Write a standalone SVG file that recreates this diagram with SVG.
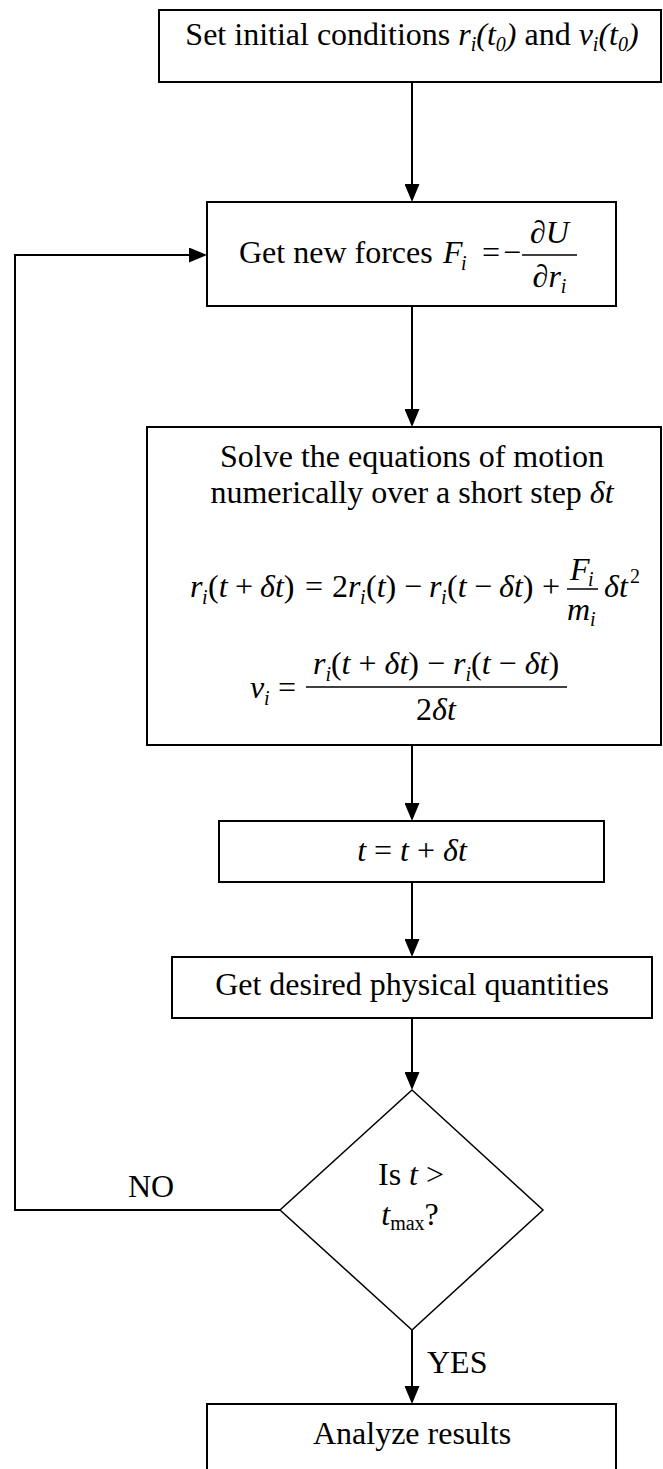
<svg xmlns="http://www.w3.org/2000/svg" width="663" height="1469" viewBox="0 0 663 1469">
<style>
text{font-family:"Liberation Serif","Times New Roman",serif;font-size:32px;fill:#000}
.it{font-style:italic}
.sub{font-size:20px}
.box{fill:#fff;stroke:#000;stroke-width:2}
.conn{fill:none;stroke:#000;stroke-width:2}
.bar{stroke:#000;stroke-width:1.5}
</style>
<defs>
<marker id="ah" viewBox="0 0 18 15" markerWidth="18" markerHeight="15" refX="8" refY="7.5" orient="auto" markerUnits="userSpaceOnUse">
<path d="M0,0 L18,7.5 L0,15 Z" fill="#000"/>
</marker>
</defs>
<rect width="663" height="1469" fill="#fff"/>
<g id="connectors">
<path class="conn" d="M412,82 V192" marker-end="url(#ah)"/>
<path class="conn" d="M412,306 V417" marker-end="url(#ah)"/>
<path class="conn" d="M412,745 V811" marker-end="url(#ah)"/>
<path class="conn" d="M412,882 V947" marker-end="url(#ah)"/>
<path class="conn" d="M412,1018 V1080" marker-end="url(#ah)"/>
<path class="conn" d="M412,1330 V1394" marker-end="url(#ah)"/>
<path class="conn" d="M280,1210 H15 V255 H197" marker-end="url(#ah)"/>
<text x="128" y="1197">NO</text>
<text x="427" y="1373">YES</text>
</g>
<g id="init">
<rect class="box" x="159" y="10" width="502" height="72"/>
<text x="412" y="45" text-anchor="middle">Set initial conditions <tspan class="it">r</tspan><tspan class="it sub" dy="6">i</tspan><tspan class="it" dy="-6">(t</tspan><tspan class="it sub" dy="6">0</tspan><tspan class="it" dy="-6">)</tspan> and <tspan class="it">v</tspan><tspan class="it sub" dy="6">i</tspan><tspan class="it" dy="-6">(t</tspan><tspan class="it sub" dy="6">0</tspan><tspan class="it" dy="-6">)</tspan></text>
</g>
<g id="forces">
<rect class="box" x="207" y="202" width="409" height="104"/>
<text x="239" y="263">Get new forces</text>
<text x="443" y="263" class="it">F</text>
<text x="461" y="270" class="it sub">i</text>
<text x="482" y="263">=</text>
<text x="503" y="263">−</text>
<line class="bar" x1="522" y1="255" x2="577" y2="255"/>
<text x="549.5" y="243" text-anchor="middle">∂<tspan class="it">U</tspan></text>
<text x="549.5" y="287" text-anchor="middle">∂<tspan class="it">r</tspan><tspan class="it sub" dy="6">i</tspan></text>
</g>
<g id="solve">
<rect class="box" x="147" y="427" width="514" height="318"/>
<text x="412" y="467" text-anchor="middle">Solve the equations of motion</text>
<text x="412" y="503" text-anchor="middle">numerically over a short step <tspan class="it">δt</tspan></text>
<text y="597"><tspan x="190" class="it">r</tspan><tspan x="202" y="604" class="sub it">i</tspan><tspan x="208" y="597">(</tspan><tspan class="it">t</tspan><tspan x="235">+</tspan><tspan x="260" class="it">δt</tspan><tspan>)</tspan><tspan x="305">=</tspan><tspan x="332">2</tspan><tspan class="it">r</tspan><tspan x="360" y="604" class="sub it">i</tspan><tspan x="366" y="597">(</tspan><tspan class="it">t</tspan><tspan>)</tspan><tspan x="404">−</tspan><tspan x="429" class="it">r</tspan><tspan x="441" y="604" class="sub it">i</tspan><tspan x="447" y="597">(</tspan><tspan class="it">t</tspan><tspan x="474">−</tspan><tspan x="499" class="it">δt</tspan><tspan>)</tspan><tspan x="542">+</tspan></text>
<text x="570" y="580" class="it">F</text>
<text x="588" y="586" class="it sub">i</text>
<line class="bar" x1="567" y1="589" x2="598" y2="589"/>
<text x="567" y="620" class="it">m</text>
<text x="590" y="626" class="it sub">i</text>
<text x="604" y="597" class="it">δt</text>
<text x="630" y="583" class="sub">2</text>
<text x="250" y="698" class="it">v</text>
<text x="264" y="705" class="it sub">i</text>
<text x="278" y="698">=</text>
<text x="436" y="674" text-anchor="middle"><tspan class="it">r</tspan><tspan class="it sub" dy="7">i</tspan><tspan dy="-7">(</tspan><tspan class="it">t</tspan> + <tspan class="it">δt</tspan>) − <tspan class="it">r</tspan><tspan class="it sub" dy="7">i</tspan><tspan dy="-7">(</tspan><tspan class="it">t</tspan> − <tspan class="it">δt</tspan>)</text>
<line class="bar" x1="306" y1="687" x2="567" y2="687"/>
<text x="436" y="720" text-anchor="middle">2<tspan class="it">δt</tspan></text>
</g>
<g id="step">
<rect class="box" x="219" y="821" width="385" height="61"/>
<text x="412" y="861" text-anchor="middle"><tspan class="it">t</tspan> = <tspan class="it">t</tspan> + <tspan class="it">δt</tspan></text>
</g>
<g id="quantities">
<rect class="box" x="172" y="957" width="480" height="61"/>
<text x="412" y="995" text-anchor="middle">Get desired physical quantities</text>
</g>
<g id="decision">
<polygon points="412,1090 543,1210 412,1330 280,1210" fill="#fff" stroke="#000" stroke-width="1.5"/>
<text x="411" y="1185" text-anchor="middle">Is <tspan class="it">t</tspan> &gt;</text>
<text x="410" y="1225" text-anchor="middle"><tspan class="it">t</tspan><tspan class="sub" dy="5">max</tspan><tspan dy="-5">?</tspan></text>
</g>
<g id="analyze">
<rect class="box" x="207" y="1404" width="409" height="90"/>
<text x="412" y="1444" text-anchor="middle">Analyze results</text>
</g>
</svg>
